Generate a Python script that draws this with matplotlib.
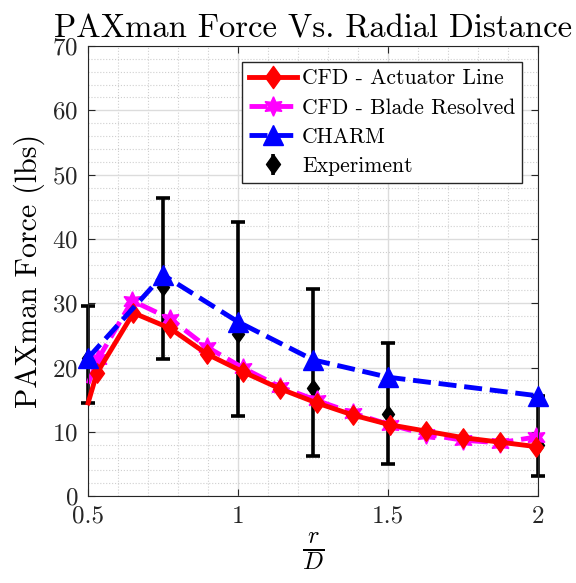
import numpy as np
import matplotlib
matplotlib.use("Agg")
import matplotlib.pyplot as plt
from matplotlib.ticker import MultipleLocator
from matplotlib.lines import Line2D
from matplotlib.path import Path

plt.rcParams['font.family'] = ['cmr10', 'DejaVu Serif']
plt.rcParams['mathtext.fontset'] = 'cm'
plt.rcParams['axes.formatter.use_mathtext'] = True

# CFD - Actuator Line
al_x = [0.50, 0.529, 0.651, 0.773, 0.896, 1.018, 1.14, 1.262, 1.384, 1.506, 1.628, 1.75, 1.872, 1.994]
al_y = [14.5, 19.1, 28.5, 26.1, 22.1, 19.3, 16.7, 14.5, 12.6, 11.1, 10.1, 9.1, 8.4, 7.7]

# CFD - Blade Resolved
br_x = [0.50, 0.533, 0.647, 0.773, 0.896, 1.018, 1.14, 1.262, 1.384, 1.506, 1.628, 1.75, 1.872, 1.994]
br_y = [17.5, 21.3, 30.4, 27.6, 23.2, 19.9, 17.0, 14.9, 12.9, 11.1, 9.6, 8.7, 8.3, 9.2]

# CHARM
ch_x = [0.5, 0.75, 1.0, 1.25, 1.5, 2.0]
ch_y = [21.5, 34.4, 27.1, 21.2, 18.5, 15.6]

# Experiment
ex_x = [0.5, 0.75, 1.0, 1.25, 1.5, 2.0]
ex_y = [21.5, 32.5, 25.2, 16.8, 12.8, 8.0]
ex_lo = [14.5, 21.3, 12.5, 6.3, 5.0, 3.2]
ex_hi = [29.5, 46.3, 42.7, 32.2, 23.8, 15.5]

# matlab-like narrow diamond and hexagram
diamond = Path([(0, 1), (0.72, 0), (0, -1), (-0.72, 0), (0, 1)],
               [Path.MOVETO, Path.LINETO, Path.LINETO, Path.LINETO, Path.CLOSEPOLY])
hexa = (6, 1, 0)

fig = plt.figure(figsize=(5.76, 5.83), dpi=100)
ax = fig.add_axes([0.153, 0.149, 0.781, 0.772])

yerr = [np.array(ex_y) - np.array(ex_lo), np.array(ex_hi) - np.array(ex_y)]
eb = ax.errorbar(ex_x, ex_y, yerr=yerr, fmt='none', ecolor='black', elinewidth=2.6,
                 capsize=5, capthick=2.6, zorder=2)
for art in [*eb[1], *eb[2]]:
    art.set_clip_on(False)
ax.plot(ex_x, ex_y, ls='none', marker=diamond, color='black', ms=12, zorder=2, clip_on=False)
ax.plot(al_x[1:], al_y[1:], ls='none', marker=diamond, color='red', ms=14, zorder=3, clip_on=False)
ax.plot(al_x, al_y, '-', color='red', lw=3.5, zorder=3, clip_on=False)
ax.plot(br_x[1:], br_y[1:], ls='none', marker=hexa, color='magenta', ms=14, zorder=2.5, clip_on=False)
ax.plot(br_x, br_y, '--', color='magenta', lw=3.5, zorder=2.5, clip_on=False)
ax.plot(ch_x, ch_y, '--', color='blue', lw=3.5, marker='^', ms=14, zorder=4, clip_on=False)

# legend handles
h_al = Line2D([], [], color='red', lw=3.5, marker=diamond, ms=16)
h_br = Line2D([], [], color='magenta', lw=3.5, ls='--', marker=hexa, ms=14)
h_ch = Line2D([], [], color='blue', lw=3.5, ls='--', marker='^', ms=14)
h_ex = ax.errorbar([], [], yerr=[], fmt='none', ecolor='black', elinewidth=2.6,
                   capsize=5, capthick=2.6)
h_exm = Line2D([], [], ls='none', marker=diamond, color='black', ms=14)
leg = ax.legend([h_al, h_br, h_ch, (h_ex, h_exm)],
                ['CFD - Actuator Line', 'CFD - Blade Resolved', 'CHARM', 'Experiment'],
                loc='upper right', bbox_to_anchor=(0.964, 0.964), fontsize=15.6,
                fancybox=False, framealpha=1, edgecolor='#262626',
                handlelength=2.25, borderpad=0.3, labelspacing=0.45, handletextpad=0.22,
                borderaxespad=0.0)
leg.get_frame().set_linewidth(1.0)

ax.set_xlim(0.5, 2)
ax.set_ylim(0, 70)
ax.set_xticks([0.5, 1, 1.5, 2])
ax.set_xticklabels(['0.5', '1', '1.5', '2'])
ax.xaxis.set_minor_locator(MultipleLocator(0.1))
ax.yaxis.set_minor_locator(MultipleLocator(2))
ax.grid(True, which='major', color='#dcdcdc', lw=1.0)
ax.grid(True, which='minor', color='#cfcfcf', lw=0.8, ls=':')
ax.set_axisbelow(True)
ax.tick_params(which='both', direction='in', top=True, right=True, labelsize=18, colors='#262626')
ax.tick_params(which='major', length=5, pad=7)
ax.tick_params(which='minor', length=0)
for s in ax.spines.values():
    s.set_color('#262626')

ax.set_title('PAXman Force Vs. Radial Distance', fontsize=23.5, pad=6)
ax.set_ylabel('PAXman Force (lbs)', fontsize=21.5, labelpad=5)
ax.set_xlabel(r'$\frac{r}{D}$', fontsize=25, labelpad=2)

fig.savefig('out.png', dpi=100)
